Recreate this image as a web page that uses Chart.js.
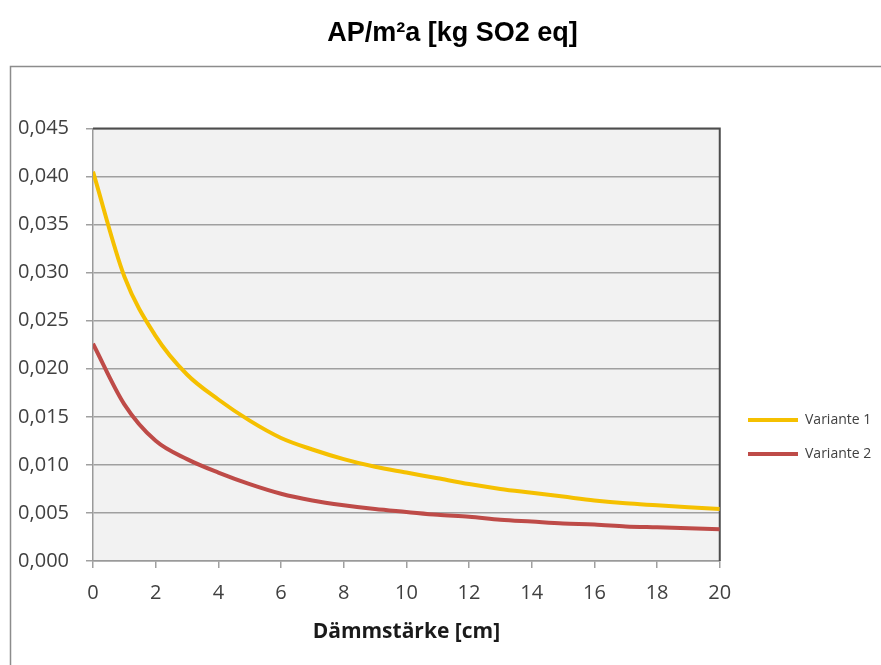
<!DOCTYPE html>
<html>
<head>
<meta charset="utf-8">
<script src="https://cdn.jsdelivr.net/npm/chart.js@4"></script>
<style>
  html, body { margin: 0; padding: 0; background: #fff; }
</style>
</head>
<body>
<canvas id="chart" width="881" height="665"></canvas>
<script>
// Dämmstärke in cm
const thickness = [0, 1, 2, 3, 4, 5, 6, 7, 8, 9, 10, 11, 12, 13, 14, 15, 16, 17, 18, 19, 20];
const variante1 = [0.0405, 0.0296, 0.0234, 0.0194, 0.0168, 0.0146, 0.0128, 0.0116, 0.0106, 0.0098, 0.0092,
  0.0086, 0.0080, 0.0075, 0.0071, 0.0067, 0.0063, 0.0060, 0.0058, 0.0056, 0.0054];
const variante2 = [0.0226, 0.0163, 0.0125, 0.0106, 0.0092, 0.0080, 0.0070, 0.0063, 0.0058, 0.0054, 0.0051,
  0.0048, 0.0046, 0.0043, 0.0041, 0.0039, 0.0038, 0.0036, 0.0035, 0.0034, 0.0033];

const xTicks = [0, 2, 4, 6, 8, 10, 12, 14, 16, 18, 20];
const yTicks = [0, 0.005, 0.01, 0.015, 0.02, 0.025, 0.03, 0.035, 0.04, 0.045];
const yTickLabels = ["0,000", "0,005", "0,010", "0,015", "0,020", "0,025", "0,030", "0,035", "0,040", "0,045"];

const toPoints = (vals) => vals.map((v, i) => ({ x: thickness[i], y: v }));

const framePlugin = {
  id: "frame",
  afterLayout(chart) {
    // legend sits lower right, like in the excel chart
    const lg = chart.legend;
    const w = lg.width;
    const h = lg.height;
    lg.left = 728;
    lg.right = lg.left + w;
    lg.top = 393;
    lg.bottom = lg.top + h;
    // title is centred a bit right of the canvas middle
    const t = chart.titleBlock;
    t.left += 16;
    t.right += 16;
  },
  beforeDraw(chart) {
    const { ctx, chartArea: a } = chart;
    ctx.save();
    ctx.fillStyle = "#fff";
    ctx.fillRect(0, 0, chart.width, chart.height);
    ctx.strokeStyle = "#8c8c8c";
    ctx.lineWidth = 1.5;
    ctx.strokeRect(10.5, 66.5, 900, 700);
    ctx.fillStyle = "#f2f2f2";
    ctx.fillRect(a.left, a.top, a.right - a.left, a.bottom - a.top);
    ctx.restore();
  },
  beforeDatasetsDraw(chart) {
    const { ctx, chartArea: a } = chart;
    ctx.save();
    ctx.strokeStyle = "#4d4d4d";
    ctx.lineWidth = 2;
    ctx.beginPath();
    ctx.moveTo(a.left, a.top);
    ctx.lineTo(a.right, a.top);
    ctx.lineTo(a.right, a.bottom);
    ctx.stroke();
    ctx.restore();
  },
};

Chart.defaults.font.family = "'Open Sans', sans-serif";

new Chart(document.getElementById("chart"), {
  type: "line",
  data: {
    datasets: [
      {
        label: "Variante 1",
        data: toPoints(variante1),
        borderColor: "#f5c000",
        backgroundColor: "#f5c000",
        borderWidth: 4,
        pointRadius: 0,
        cubicInterpolationMode: "monotone",
      },
      {
        label: "Variante 2",
        data: toPoints(variante2),
        borderColor: "#be4b48",
        backgroundColor: "#be4b48",
        borderWidth: 4,
        pointRadius: 0,
        cubicInterpolationMode: "monotone",
      },
    ],
  },
  options: {
    responsive: false,
    animation: false,
    layout: {
      padding: { left: 0, right: 8, top: 0, bottom: 0 },
    },
    scales: {
      x: {
        type: "linear",
        min: 0,
        max: 20,
        afterBuildTicks: (s) => {
          s.ticks = xTicks.map((v) => ({ value: v }));
        },
        afterFit: (s) => {
          s.height = 104;
        },
        ticks: {
          color: "#404040",
          font: { size: 20 },
          padding: 13,
        },
        grid: {
          drawOnChartArea: false,
          tickLength: 7,
          color: "#a0a0a0",
          lineWidth: 1.5,
        },
        border: { color: "#9a9a9a", width: 1.5 },
        title: {
          display: true,
          text: "Dämmstärke [cm]",
          color: "#1a1a1a",
          font: { size: 21, weight: "bold" },
          padding: { top: 0, bottom: 20 },
        },
      },
      y: {
        min: 0,
        max: 0.045,
        afterBuildTicks: (s) => {
          s.ticks = yTicks.map((v) => ({ value: v }));
        },
        afterFit: (s) => {
          s.width = 93;
        },
        ticks: {
          color: "#404040",
          font: { size: 20 },
          padding: 17,
          callback: (value, index) => yTickLabels[index],
        },
        grid: {
          tickLength: 7,
          color: "#a0a0a0",
          lineWidth: 1.5,
        },
        border: { color: "#9a9a9a", width: 1.5 },
      },
    },
    plugins: {
      title: {
        display: true,
        text: "AP/m²a [kg SO2 eq]",
        color: "#000",
        font: { family: "'Liberation Sans', Arial, sans-serif", size: 27, weight: "bold" },
        padding: { top: 17, bottom: 79 },
      },
      legend: {
        position: "right",
        align: "start",
        fullSize: false,
        labels: {
          color: "#404040",
          font: { size: 14 },
          boxWidth: 50,
          boxHeight: 4,
          padding: 20,
          generateLabels: (chart) =>
            Chart.defaults.plugins.legend.labels.generateLabels(chart).map((l) => ({ ...l, lineWidth: 0 })),
        },
      },
      tooltip: { enabled: false },
    },
  },
  plugins: [framePlugin],
});
</script>
</body>
</html>
